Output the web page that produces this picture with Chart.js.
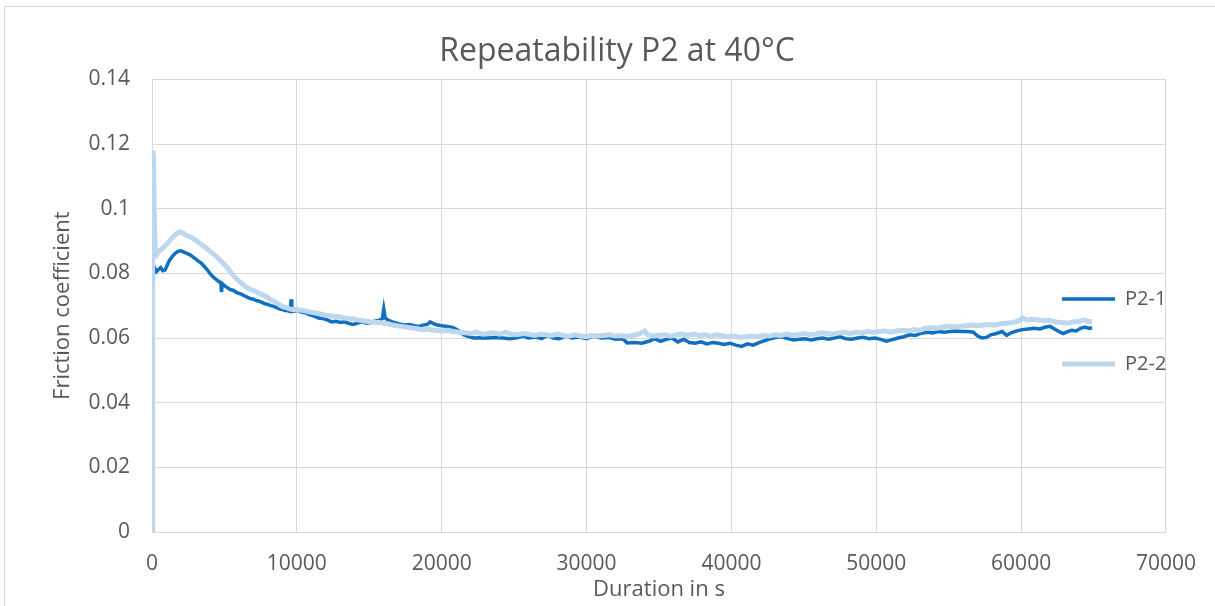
<!DOCTYPE html>
<html>
<head>
<meta charset="utf-8">
<script src="https://cdn.jsdelivr.net/npm/chart.js@4/dist/chart.umd.min.js"></script>
<style>
  html, body { margin: 0; padding: 0; background: #fff; overflow: hidden; }
  #wrap { position: relative; width: 1215px; height: 606px; }
  #frame { position: absolute; left: 4px; top: 6px; width: 1400px; height: 800px; border: 1px solid #d9d9d9; pointer-events: none; }
</style>
</head>
<body>
<div id="wrap">
  <canvas id="frictionChart" width="1215" height="606"></canvas>
  <div id="frame"></div>
</div>
<script>
// values
var seriesNames = ["P2-1", "P2-2"];

var p21Time = [0, 40, 150, 300, 450, 600, 750, 900, 1050, 1200, 1400, 1600, 1800, 2000, 2200, 2400, 2600, 2800, 3000, 3200,
  3400, 3600, 3800, 4000, 4200, 4400, 4600, 4750, 4800, 4850, 5000, 5200, 5400, 5600, 5800, 6000, 6200, 6400, 6600, 6800,
  7000, 7200, 7400, 7600, 7800, 8000, 8200, 8400, 8600, 8800, 9000, 9200, 9400, 9550, 9600, 9650, 9800, 10000, 10300, 10600,
  10900, 11200, 11500, 11800, 12100, 12400, 12700, 13000, 13300, 13600, 13900, 14200, 14500, 14800, 15100, 15400, 15700, 15900, 16000, 16100,
  16300, 16600, 16900, 17200, 17500, 17800, 18100, 18400, 18700, 19000, 19200, 19400, 19700, 20000, 20400, 20800, 21200, 21500, 21800, 22200,
  22700, 23200, 23700, 24200, 24700, 25200, 25600, 26000, 26500, 26900, 27300, 27700, 28100, 28600, 29000, 29500, 30000, 30500, 31000, 31500,
  32000, 32500, 32800, 33300, 33800, 34300, 34700, 35100, 35500, 35900, 36300, 36700, 37100, 37500, 37900, 38300, 38700, 39100, 39500, 39900,
  40300, 40700, 41100, 41500, 41900, 42300, 42700, 43100, 43500, 43900, 44300, 44700, 45100, 45500, 45900, 46300, 46700, 47100, 47500, 47900,
  48300, 48700, 49100, 49500, 49900, 50300, 50700, 51100, 51500, 51900, 52300, 52700, 53100, 53500, 53900, 54300, 54700, 55100, 55500, 55900,
  56300, 56700, 57000, 57300, 57600, 57900, 58300, 58700, 59000, 59300, 59700, 60100, 60500, 60900, 61300, 61700, 62000, 62300, 62600, 62900,
  63200, 63500, 63800, 64100, 64400, 64700, 64900];
var p21Friction = [0, 0.079, 0.082, 0.0805, 0.0812, 0.0818, 0.0808, 0.081, 0.0825, 0.084, 0.0852, 0.0862, 0.0868, 0.087, 0.0866, 0.0862, 0.0858, 0.0852, 0.0845, 0.0838,
  0.0832, 0.0822, 0.0812, 0.08, 0.079, 0.0782, 0.0775, 0.077, 0.0742, 0.0768, 0.0762, 0.0756, 0.075, 0.0748, 0.0742, 0.0738, 0.0735, 0.073, 0.0726, 0.0722,
  0.072, 0.0716, 0.0714, 0.071, 0.0706, 0.0704, 0.07, 0.0698, 0.0694, 0.069, 0.0688, 0.0685, 0.0684, 0.0682, 0.072, 0.0684, 0.0683, 0.0686, 0.068, 0.0678,
  0.0672, 0.0668, 0.0662, 0.066, 0.0656, 0.065, 0.0652, 0.0648, 0.065, 0.0645, 0.0642, 0.0646, 0.065, 0.0646, 0.0648, 0.0652, 0.0655, 0.066, 0.069, 0.0662,
  0.0655, 0.065, 0.0646, 0.0642, 0.064, 0.0642, 0.0638, 0.0636, 0.064, 0.0642, 0.065, 0.0645, 0.064, 0.0638, 0.0636, 0.0632, 0.0622, 0.061, 0.0605, 0.06,
  0.0601, 0.06, 0.0602, 0.06, 0.0598, 0.0601, 0.0606, 0.06, 0.0603, 0.0598, 0.0608, 0.06, 0.0598, 0.0606, 0.06, 0.0603, 0.0598, 0.0606, 0.06, 0.0602,
  0.0596, 0.0598, 0.0585, 0.0586, 0.0584, 0.059, 0.0598, 0.059, 0.0596, 0.06, 0.0588, 0.0596, 0.0586, 0.0584, 0.0588, 0.0582, 0.0586, 0.0584, 0.058, 0.0584,
  0.0578, 0.0574, 0.0582, 0.0578, 0.0586, 0.0592, 0.0598, 0.0602, 0.0604, 0.0598, 0.0594, 0.0596, 0.0598, 0.0594, 0.0598, 0.06, 0.0596, 0.06, 0.0604, 0.0598,
  0.0596, 0.06, 0.0602, 0.0598, 0.06, 0.0596, 0.059, 0.0595, 0.06, 0.0604, 0.061, 0.0608, 0.0615, 0.0618, 0.0616, 0.062, 0.0618, 0.062, 0.0622, 0.062,
  0.062, 0.0618, 0.0606, 0.06, 0.0602, 0.061, 0.0614, 0.062, 0.0608, 0.0616, 0.0622, 0.0626, 0.0628, 0.063, 0.0628, 0.0634, 0.0636, 0.0628, 0.062, 0.0614,
  0.062, 0.0624, 0.0622, 0.063, 0.0634, 0.063, 0.0632];

var p22Time = [0, 30, 60, 100, 150, 220, 350, 500, 700, 900, 1100, 1300, 1500, 1700, 1900, 2100, 2300, 2500, 2700, 2900,
  3100, 3300, 3500, 3700, 3900, 4100, 4300, 4500, 4700, 4900, 5100, 5300, 5500, 5700, 5900, 6100, 6300, 6500, 6700, 6900,
  7100, 7300, 7500, 7700, 7900, 8100, 8300, 8500, 8700, 8900, 9100, 9300, 9500, 9700, 10000, 10300, 10600, 10900, 11200, 11500,
  11800, 12100, 12400, 12700, 13000, 13300, 13600, 13900, 14200, 14500, 14800, 15100, 15400, 15700, 16000, 16300, 16600, 16900, 17200, 17500,
  17800, 18100, 18400, 18700, 19000, 19300, 19600, 20000, 20400, 20800, 21200, 21600, 22000, 22400, 22800, 23200, 23600, 24000, 24400, 24800,
  25200, 25600, 26000, 26400, 26800, 27200, 27600, 28000, 28400, 28800, 29200, 29600, 30000, 30400, 30800, 31200, 31600, 32000, 32400, 32800,
  33200, 33600, 34000, 34200, 34600, 35000, 35400, 35800, 36200, 36600, 37000, 37400, 37800, 38200, 38600, 39000, 39400, 39800, 40200, 40600,
  41000, 41400, 41800, 42200, 42600, 43000, 43400, 43800, 44200, 44600, 45000, 45400, 45800, 46200, 46600, 47000, 47400, 47800, 48200, 48600,
  49000, 49400, 49800, 50200, 50600, 51000, 51400, 51800, 52200, 52600, 53000, 53400, 53800, 54200, 54600, 55000, 55400, 55800, 56200, 56600,
  57000, 57400, 57800, 58200, 58600, 59000, 59400, 59800, 60100, 60400, 60800, 61200, 61600, 62000, 62400, 62800, 63200, 63600, 64000, 64300,
  64600, 64900];
var p22Friction = [0, 0.04, 0.118, 0.116, 0.1, 0.088, 0.086, 0.087, 0.0876, 0.0885, 0.0895, 0.0905, 0.0915, 0.0923, 0.0928, 0.0926, 0.092, 0.0915, 0.0912, 0.0906,
  0.09, 0.0893, 0.0886, 0.088, 0.0872, 0.0865, 0.0858, 0.085, 0.084, 0.0832, 0.0822, 0.0812, 0.08, 0.079, 0.078, 0.0772, 0.0765, 0.0758, 0.0752, 0.0748,
  0.0745, 0.074, 0.0736, 0.0732, 0.0728, 0.0722, 0.0716, 0.0712, 0.0706, 0.07, 0.0696, 0.0694, 0.069, 0.0688, 0.0688, 0.0686, 0.0684, 0.068, 0.0678, 0.0676,
  0.0672, 0.067, 0.0668, 0.0666, 0.0666, 0.0662, 0.066, 0.066, 0.0656, 0.0654, 0.0652, 0.065, 0.0648, 0.0648, 0.0646, 0.0644, 0.064, 0.0638, 0.0636, 0.0634,
  0.0632, 0.063, 0.0628, 0.0626, 0.0628, 0.0624, 0.0624, 0.0622, 0.0624, 0.062, 0.0618, 0.0616, 0.0614, 0.0618, 0.0612, 0.0614, 0.0616, 0.0612, 0.0618, 0.0612,
  0.061, 0.0614, 0.0612, 0.0608, 0.0612, 0.061, 0.0608, 0.0612, 0.0608, 0.0606, 0.061, 0.0606, 0.0604, 0.0608, 0.0606, 0.0608, 0.061, 0.0606, 0.0608, 0.0604,
  0.0608, 0.0612, 0.0622, 0.061, 0.0606, 0.0608, 0.061, 0.0606, 0.061, 0.0612, 0.0608, 0.0612, 0.0608, 0.061, 0.0606, 0.061, 0.0606, 0.0604, 0.0606, 0.0602,
  0.0604, 0.0606, 0.0604, 0.0608, 0.0606, 0.061, 0.0608, 0.0612, 0.0608, 0.061, 0.0614, 0.061, 0.0612, 0.0616, 0.0614, 0.0612, 0.0616, 0.0618, 0.0614, 0.0618,
  0.0616, 0.062, 0.0618, 0.062, 0.0622, 0.0618, 0.0622, 0.0624, 0.0622, 0.0626, 0.0624, 0.063, 0.0632, 0.063, 0.0634, 0.0636, 0.0634, 0.0636, 0.0638, 0.064,
  0.0638, 0.064, 0.0642, 0.064, 0.0644, 0.0646, 0.0648, 0.0652, 0.0662, 0.0656, 0.0658, 0.0656, 0.0654, 0.0654, 0.065, 0.0648, 0.0646, 0.065, 0.0652, 0.0656,
  0.0652, 0.065];

var xTicks = [0, 10000, 20000, 30000, 40000, 50000, 60000, 70000];
var yTicks = [0, 0.02, 0.04, 0.06, 0.08, 0.1, 0.12, 0.14];

function toPoints(xs, ys) {
  return xs.map(function (x, i) { return { x: x, y: ys[i] }; });
}

var textGrey = "#595959";
var gridGrey = "#d9d9d9";
var fontName = "'Open Sans', sans-serif";

// Excel placed the legend inside the plot (right side) and centred the title on the whole chart box
var excelPlacement = {
  id: "excelPlacement",
  afterLayout: function (chart) {
    var lg = chart.legend;
    var pad = lg.options.labels.padding;
    var fs = lg.options.labels.font.size;
    lg.left = 1062 - pad;
    lg.right = lg.left + lg.width;
    lg.top = 299 - pad - fs / 2;

    var tb = chart.titleBlock;
    tb.left = 64;
    tb.right = 1170;
  }
};

new Chart(document.getElementById("frictionChart"), {
  type: "line",
  data: {
    datasets: [
      {
        label: seriesNames[0],
        data: toPoints(p21Time, p21Friction),
        borderColor: "#0f6fc1",
        backgroundColor: "#0f6fc1",
        borderWidth: 3.5,
        order: 1
      },
      {
        label: seriesNames[1],
        data: toPoints(p22Time, p22Friction),
        borderColor: "#bdd7ee",
        backgroundColor: "#bdd7ee",
        borderWidth: 5,
        order: 0
      }
    ]
  },
  options: {
    responsive: false,
    animation: false,
    elements: {
      point: { radius: 0 },
      line: { tension: 0 }
    },
    layout: { padding: { left: 0, right: 45, top: 0, bottom: 0 } },
    plugins: {
      title: {
        display: true,
        text: "Repeatability P2 at 40°C",
        color: textGrey,
        font: { family: fontName, size: 32, weight: "normal" },
        padding: { top: 33, bottom: 8 }
      },
      legend: {
        position: "chartArea",
        align: "start",
        labels: {
          usePointStyle: true,
          pointStyle: "line",
          pointStyleWidth: 53,
          padding: 45,
          color: textGrey,
          font: { family: fontName, size: 20 },
          sort: function (a, b) { return a.datasetIndex - b.datasetIndex; }
        }
      },
      tooltip: { enabled: false }
    },
    scales: {
      x: {
        type: "linear",
        min: xTicks[0],
        max: xTicks[xTicks.length - 1],
        afterBuildTicks: function (s) { s.ticks = xTicks.map(function (v) { return { value: v }; }); },
        afterFit: function (s) { s.height = 74; },
        grid: { color: gridGrey, drawTicks: false },
        border: { color: gridGrey },
        ticks: {
          color: textGrey,
          padding: 19,
          font: { family: fontName, size: 21 },
          maxRotation: 0,
          callback: function (v) { return String(v); }
        },
        title: {
          display: true,
          text: "Duration in s",
          color: textGrey,
          font: { family: fontName, size: 22 },
          padding: { top: 0, bottom: 3 }
        }
      },
      y: {
        min: yTicks[0],
        max: yTicks[yTicks.length - 1],
        afterBuildTicks: function (s) { s.ticks = yTicks.map(function (v) { return { value: v }; }); },
        afterFit: function (s) { s.width = 152; },
        grid: { color: gridGrey, drawTicks: false },
        border: { display: false },
        ticks: {
          color: textGrey,
          padding: 22,
          font: { family: fontName, size: 21 },
          callback: function (v) { return String(+v.toFixed(2)); }
        },
        title: {
          display: true,
          text: "Friction coefficient",
          color: textGrey,
          font: { family: fontName, size: 22 },
          padding: { top: 50, bottom: 0 }
        }
      }
    }
  },
  plugins: [excelPlacement]
});
</script>
</body>
</html>
